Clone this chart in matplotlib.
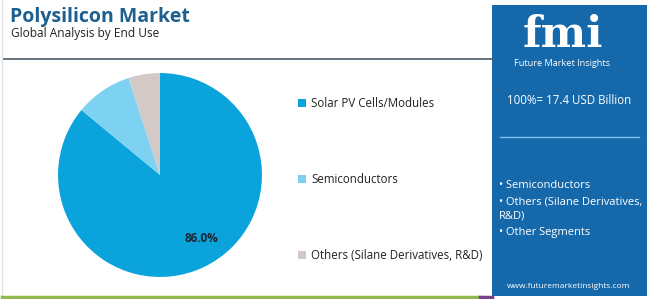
import matplotlib
matplotlib.use("Agg")
import matplotlib.pyplot as plt
from matplotlib.patches import Rectangle
from matplotlib.lines import Line2D

categories = ["Solar PV Cells/Modules", "Semiconductors", "Others (Silane Derivatives, R&D)"]
shares = [86.0, 9.0, 5.0]
colors = ["#0BA3DC", "#7DD2F1", "#D3CAC8"]
title = "Polysilicon Market"
subtitle = "Global Analysis by End Use"
total_text = "100%= 17.4 USD Billion"
side_items = ["• Semiconductors", "• Others (Silane Derivatives,\nR&D)", "• Other Segments"]

plt.rcParams['font.family'] = ['Open Sans', 'DejaVu Sans']

W, H = 650, 299
fig = plt.figure(figsize=(W/100, H/100), dpi=100)
fig.patch.set_facecolor("white")

def fx(x): return x / W
def fy(y): return 1 - y / H

# header separator line
fig.add_artist(Line2D([fx(3), fx(493)], [fy(58.5), fy(58.5)], color="#4a5a68", lw=1.2))
# left border
fig.add_artist(Line2D([fx(2), fx(2)], [fy(0), fy(296)], color="#e2e2e2", lw=1))
# bottom line
fig.add_artist(Line2D([fx(2), fx(480)], [fy(297), fy(297)], color="#8fb84e", lw=2.5))
fig.add_artist(Line2D([fx(480), fx(492)], [fy(297), fy(297)], color="#7a3f8a", lw=2.5))

# title
fig.text(fx(10), fy(17), title, fontsize=14, fontweight="bold", color="#1d5f8f", va="center", ha="left")
fig.text(fx(11), fy(34), subtitle, fontsize=8.6, color="#222222", va="center", ha="left")

# pie
ax = fig.add_axes([fx(160-104), fy(175+104), fx(208), 208/H])
wedges, texts, autotexts = ax.pie(
    shares, colors=colors, startangle=90, counterclock=False,
    autopct=lambda p: f"{p:.1f}%" if p > 50 else "", pctdistance=0.74,
    wedgeprops=dict(linewidth=0),
    textprops=dict(fontsize=8.5, fontweight="bold", color="#1a2530"))
autotexts[0].set_position((0.41, -0.62))
ax.set_xlim(-1.02, 1.02)
ax.set_ylim(-1.02, 1.02)
ax.set_aspect("equal")
ax.axis("off")

# legend
leg = fig.legend(wedges, categories, loc="upper left", bbox_to_anchor=(fx(298), fy(97)),
                 frameon=False, fontsize=8.3, labelspacing=5.45, handlelength=0.7,
                 handleheight=0.7, handletextpad=0.45, borderaxespad=0, borderpad=0)
for t in leg.get_texts():
    t.set_color("#222222")

# right panel
fig.add_artist(Rectangle((fx(492), fy(296)), fx(155), (296-5)/H, transform=fig.transFigure,
                         facecolor="#1568AA", edgecolor="none"))
fig.text(fx(563), fy(47), "fmi", fontsize=31, fontweight="bold", color="white",
         ha="center", va="baseline", family=["DejaVu Serif"])
for yy in range(20, 49, 5):
    fig.add_artist(Line2D([fx(512), fx(614)], [fy(yy), fy(yy)], color="#1568AA", lw=0.8))
fig.text(fx(562), fy(63), "Future Market Insights", fontsize=6.6, color="white", ha="center", va="center")
fig.text(fx(569), fy(100), total_text, fontsize=8.3, color="white", ha="center", va="center")
fig.add_artist(Line2D([fx(500), fx(639)], [fy(137), fy(137)], color="#7cc4f0", lw=1))
fig.text(fx(499), fy(186), side_items[0], fontsize=8, color="white", ha="left", va="center")
fig.text(fx(499), fy(209), side_items[1], fontsize=8, color="white", ha="left", va="center", linespacing=1.25)
fig.text(fx(499), fy(232), side_items[2], fontsize=8, color="white", ha="left", va="center")
fig.text(fx(569), fy(286), "www.futuremarketinsights.com", fontsize=6, color="white", ha="center", va="center")

fig.savefig("out.png", dpi=100)
